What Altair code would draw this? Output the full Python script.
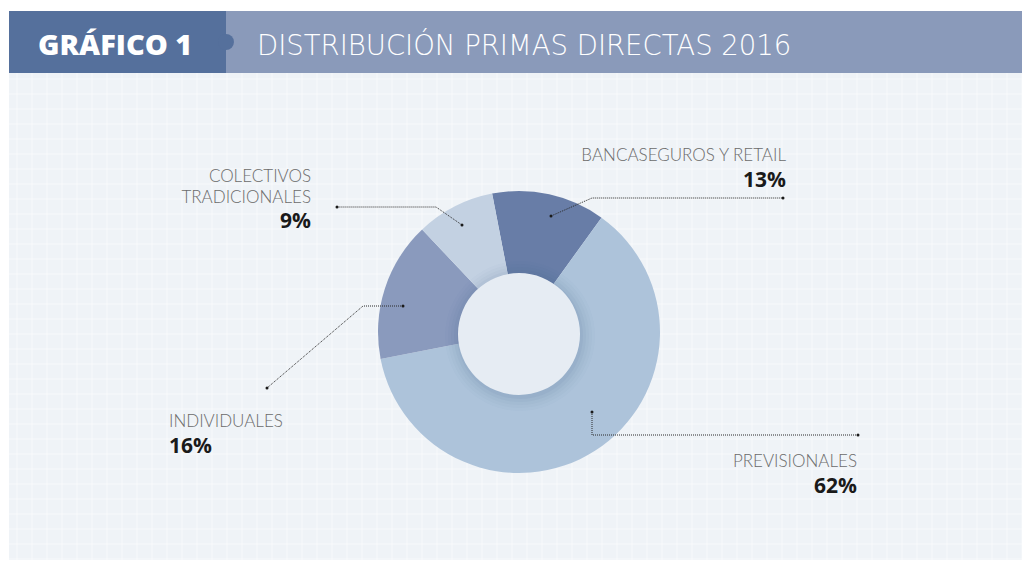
import math
import altair as alt
import pandas as pd

# ---- data ----
categories = ["BANCASEGUROS Y RETAIL", "PREVISIONALES", "INDIVIDUALES", "COLECTIVOS TRADICIONALES"]
values = [13, 62, 16, 9]
slice_colors = ["#687da7", "#adc3da", "#8a9abd", "#c3d1e2"]
name_lines = ["BANCASEGUROS Y RETAIL", "PREVISIONALES", "INDIVIDUALES", "COLECTIVOS\nTRADICIONALES"]
title_tag = "GRÁFICO 1"
title_text = "DISTRIBUCIÓN PRIMAS DIRECTAS 2016"

# ---- layout (page pixel coords of the reference) ----
W, H = 1014, 552
OFF = 8
CX, CY = 519, 332
R_OUT, R_IN = 141, 61
START = -11 * math.pi / 180

leaders = {
    "BANCASEGUROS Y RETAIL": [(551, 216), (592, 198), (783, 198)],
    "PREVISIONALES": [(592, 412), (592, 435), (858, 435)],
    "INDIVIDUALES": [(403, 306), (363, 306), (267, 388)],
    "COLECTIVOS TRADICIONALES": [(462, 225), (436, 207), (337, 207)],
}
label_pos = {
    "BANCASEGUROS Y RETAIL": (786, 161, 187, "right"),
    "PREVISIONALES": (857, 467, 493, "right"),
    "INDIVIDUALES": (169, 427, 453, "left"),
    "COLECTIVOS TRADICIONALES": (311, 182, 228, "right"),
}

xs = alt.Scale(domain=[0, W], range=[0, W], nice=False, zero=False)
ys = alt.Scale(domain=[0, H], range=[0, H], nice=False, zero=False)


def px(v):
    return v - OFF


# background grid (decoration)
gx = pd.DataFrame({"x": [px(2 + 15 * k) for k in range(1, 69)]})
gy = pd.DataFrame({"y": [px(4 + 15 * k) for k in range(1, 38)]})
grid_v = alt.Chart(gx).mark_rule(color="#ffffff", opacity=0.55, strokeWidth=1).encode(
    x=alt.X("x:Q", scale=xs, axis=None), y=alt.value(0), y2=alt.value(H)
)
grid_h = alt.Chart(gy).mark_rule(color="#ffffff", opacity=0.55, strokeWidth=1).encode(
    y=alt.Y("y:Q", scale=ys, axis=None), x=alt.value(0), x2=alt.value(W)
)

rects = pd.DataFrame([
    {"x": 0, "x2": W, "y": 0, "y2": px(11), "c": "#ffffff"},
    {"x": 0, "x2": px(9), "y": 0, "y2": H, "c": "#ffffff"},
    {"x": px(226), "x2": W, "y": px(11), "y2": px(73), "c": "#8a9aba"},
    {"x": px(9), "x2": px(226), "y": px(11), "y2": px(73), "c": "#55709c"},
])
rect_layer = alt.Chart(rects).mark_rect().encode(
    x=alt.X("x:Q", scale=xs, axis=None), x2="x2", y=alt.Y("y:Q", scale=ys, axis=None), y2="y2",
    color=alt.Color("c:N", scale=None),
)
notch = alt.Chart(pd.DataFrame({"x": [px(226)], "y": [px(42)]})).mark_circle(
    size=math.pi * 9 * 9, color="#55709c", opacity=1
).encode(x=alt.X("x:Q", scale=xs, axis=None), y=alt.Y("y:Q", scale=ys, axis=None))

hdr = pd.DataFrame({"x": [px(38), px(257)], "y": [px(55), px(55)], "t": [title_tag, title_text]})
tag_text = alt.Chart(hdr.iloc[[0]]).mark_text(
    align="left", baseline="alphabetic", font="Open Sans", fontWeight=800, fontSize=29, color="#ffffff"
).encode(x=alt.X("x:Q", scale=xs, axis=None), y=alt.Y("y:Q", scale=ys, axis=None), text="t:N")
ttl_text = alt.Chart(hdr.iloc[[1]]).mark_text(
    align="left", baseline="alphabetic", font="DejaVu Sans", fontWeight=200, fontSize=27.5, color="#ffffff"
).encode(x=alt.X("x:Q", scale=xs, axis=None), y=alt.Y("y:Q", scale=ys, axis=None), text="t:N")

# donut
pie_df = pd.DataFrame({"cat": categories, "value": values, "order": list(range(len(values))), "col": slice_colors})
donut = alt.Chart(pie_df).mark_arc(outerRadius=R_OUT, innerRadius=0, stroke=None).encode(
    theta=alt.Theta("value:Q", stack=True, scale=alt.Scale(range=[START, START + 2 * math.pi])),
    order=alt.Order("order:Q"),
    color=alt.Color("col:N", scale=None),
    x=alt.value(px(CX)),
    y=alt.value(px(CY)),
)

one = pd.DataFrame({"v": [1]})
shadow_layers = []
for dr, op in [(14, 0.02), (11, 0.025), (8, 0.03), (5, 0.04), (2, 0.05)]:
    shadow_layers.append(
        alt.Chart(one).mark_arc(
            theta=0, theta2=2 * math.pi, outerRadius=R_IN + dr, innerRadius=0, color="#3b5585", opacity=op
        ).encode(x=alt.value(px(CX + 1)), y=alt.value(px(CY + 4)))
    )
hole = alt.Chart(one).mark_arc(
    theta=0, theta2=2 * math.pi, outerRadius=R_IN, innerRadius=0, color="#e6ecf3"
).encode(x=alt.value(px(CX)), y=alt.value(px(CY + 2)))

# leader lines
lrows, drows = [], []
for cat in categories:
    pts = leaders[cat]
    for i, (a, b) in enumerate(pts):
        lrows.append({"cat": cat, "i": i, "x": px(a), "y": px(b)})
    for (a, b) in (pts[0], pts[-1]):
        drows.append({"x": px(a), "y": px(b)})
lines = alt.Chart(pd.DataFrame(lrows)).mark_line(color="#2b2b2b", strokeWidth=1, strokeDash=[1, 1]).encode(
    x=alt.X("x:Q", scale=xs, axis=None), y=alt.Y("y:Q", scale=ys, axis=None), detail="cat:N", order="i:Q"
)
dots = alt.Chart(pd.DataFrame(drows)).mark_circle(size=9, color="#1a1a1a", opacity=1).encode(
    x=alt.X("x:Q", scale=xs, axis=None), y=alt.Y("y:Q", scale=ys, axis=None)
)

# labels
lab_rows = []
for cat, nm, v in zip(categories, name_lines, values):
    x, yn, yp, al = label_pos[cat]
    lab_rows.append({"cat": cat, "name": nm, "pct": f"{v}%", "x": px(x), "yn": px(yn), "yp": px(yp), "al": al})
lab = pd.DataFrame(lab_rows)

text_layers = []
for al in ["right", "left"]:
    sub = lab[lab["al"] == al]
    text_layers.append(alt.Chart(sub).mark_text(
        align=al, baseline="alphabetic", font="Lato", fontWeight=300, fontSize=17, color="#6b6b6b",
        lineBreak="\n", lineHeight=21
    ).encode(x=alt.X("x:Q", scale=xs, axis=None), y=alt.Y("yn:Q", scale=ys, axis=None), text="name:N"))
    text_layers.append(alt.Chart(sub).mark_text(
        align=al, baseline="alphabetic", font="Open Sans", fontWeight="bold", fontSize=21, color="#1a1a1a"
    ).encode(x=alt.X("x:Q", scale=xs, axis=None), y=alt.Y("yp:Q", scale=ys, axis=None), text="pct:N"))

chart = alt.layer(
    grid_v, grid_h, rect_layer, notch, tag_text, ttl_text, donut, *shadow_layers, hole,
    lines, dots, *text_layers
).properties(
    width=W, height=H, padding=0, autosize=alt.AutoSizeParams(type="none")
).configure_view(stroke=None, fill="#eff3f7")

chart.save("out.html", embed_options={"renderer": "svg", "actions": False})
